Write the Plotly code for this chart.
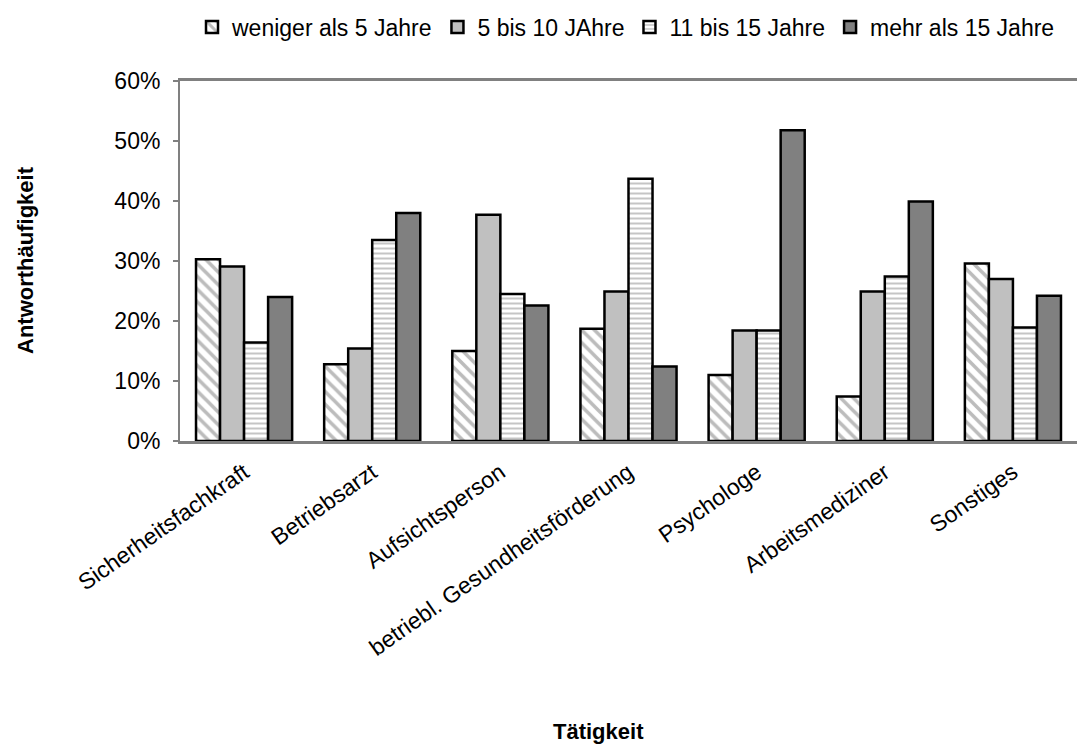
import plotly.graph_objects as go

categories = ["Sicherheitsfachkraft", "Betriebsarzt", "Aufsichtsperson",
              "betriebl. Gesundheitsförderung", "Psychologe", "Arbeitsmediziner", "Sonstiges"]
series_names = ["weniger als 5 Jahre", "5 bis 10 JAhre", "11 bis 15 Jahre", "mehr als 15 Jahre"]
weniger_5 = [0.303, 0.128, 0.150, 0.187, 0.110, 0.074, 0.296]
j5_10 = [0.291, 0.154, 0.377, 0.249, 0.184, 0.249, 0.270]
j11_15 = [0.164, 0.335, 0.245, 0.437, 0.184, 0.274, 0.189]
mehr_15 = [0.240, 0.380, 0.226, 0.124, 0.518, 0.399, 0.242]

FONT = "Liberation Sans, Arial, sans-serif"
W, H = 1079, 745
L, R, T, B = 180, 2, 81, 304
pw, ph = W - L - R, H - T - B

styles = [
    dict(color="white", pattern=dict(shape="\\", fgcolor="#7a7a7a", bgcolor="white", size=9, solidity=0.4)),
    dict(color="#c0c0c0"),
    dict(color="white", pattern=dict(shape="-", fgcolor="#8c8c8c", bgcolor="white", size=5, solidity=0.4)),
    dict(color="#808080"),
]

fig = go.Figure()
for name, vals, st in zip(series_names, [weniger_5, j5_10, j11_15, mehr_15], styles):
    marker = dict(st)
    marker["line"] = dict(color="black", width=2.5)
    fig.add_trace(go.Bar(name=name, x=categories, y=vals, marker=marker))

fig.update_layout(
    width=W, height=H,
    margin=dict(l=L, r=R, t=T, b=B, autoexpand=False),
    paper_bgcolor="white", plot_bgcolor="white",
    barmode="group", bargap=0.25, bargroupgap=0,
    font=dict(family=FONT, size=22, color="black"),
    legend=dict(orientation="h", x=(192 - L) / pw, xanchor="left",
                y=(H - B - 27) / ph, yanchor="middle",
                font=dict(size=23), itemwidth=30, tracegroupgap=0,
                bgcolor="rgba(0,0,0,0)"),
    showlegend=True,
)
fig.update_xaxes(showline=True, linecolor="#808080", linewidth=3, mirror=True,
                 ticks="", tickangle=-35, showgrid=False, ticklabelstandoff=6,
                 tickfont=dict(size=23))
fig.update_yaxes(range=[0, 0.6], dtick=0.1, tickformat=".0%", showline=True,
                 linecolor="#808080", linewidth=2, ticks="outside", ticklen=5,
                 tickcolor="#808080", tickwidth=2, showgrid=False, zeroline=False,
                 ticklabelstandoff=8, tickfont=dict(size=23))

fig.add_annotation(text="<b>Antworthäufigkeit</b>", xref="paper", yref="paper",
                   x=(25 - L) / pw, y=(H - B - 260) / ph, textangle=-90,
                   showarrow=False, font=dict(size=22), xanchor="center", yanchor="middle")
fig.add_annotation(text="<b>Tätigkeit</b>", xref="paper", yref="paper",
                   x=(598 - L) / pw, y=(H - B - 731) / ph,
                   showarrow=False, font=dict(size=22), xanchor="center", yanchor="middle")

fig.write_html("out.html", config={"displayModeBar": False},
               post_script="document.body.style.margin='0';document.body.style.overflow='hidden';")
